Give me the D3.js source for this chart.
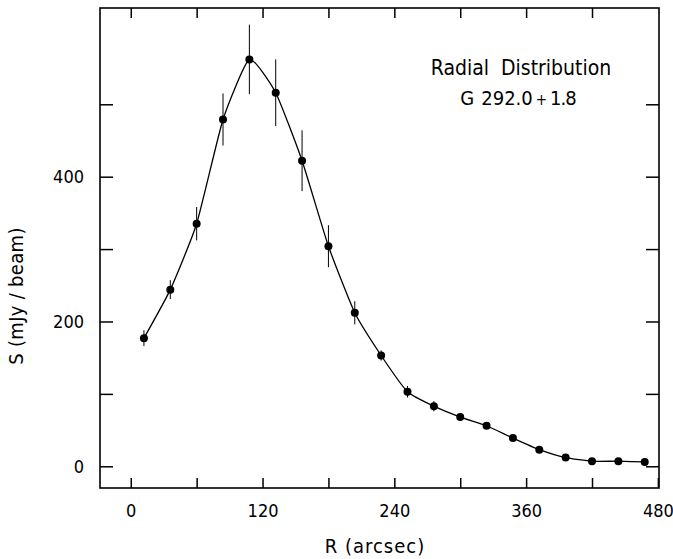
<!DOCTYPE html>
<html>
<head>
<meta charset="utf-8">
<script src="https://cdn.jsdelivr.net/npm/d3@7"></script>
<style>
  body { margin: 0; background: #fff; }
  svg text { font-family: "DejaVu Sans Condensed", "Liberation Sans Narrow", "DejaVu Sans", sans-serif; fill: #000; }
</style>
</head>
<body>
<div id="chart"></div>
<script>
// radial distribution of G 292.0+1.8
const radius = [12, 36, 60, 84, 108, 132, 156, 180, 204, 228, 252, 276, 300, 324, 348, 372, 396, 420, 444, 468];
const flux = [177, 244, 335, 479, 562, 516, 422, 304, 212, 153, 103, 83, 68, 56, 39, 23, 12, 7, 7, 6];
const fluxErr = [11, 13, 23, 36, 48, 46, 42, 29, 16, 7, 8, 7, 4, 3, 3, 2, 2, 1, 1, 1];
const xTicks = [0, 60, 120, 180, 240, 300, 360, 420];
const xLabels = [0, 120, 240, 360, 480];
const yTicks = [0, 100, 200, 300, 400, 500];
const yLabels = [0, 200, 400];
const title = "Radial  Distribution";
const subtitle = ["G", "292.0", "+", "1.8"];

const width = 673, height = 559;
const margins = {left: 100, right: 14, top: 8, bottom: 71};

const svg = d3.select("#chart").append("svg")
  .attr("width", width)
  .attr("height", height);

const x = d3.scaleLinear().domain([-28, 481]).range([margins.left, width - margins.right]);
const y = d3.scaleLinear().domain([-30, 633]).range([height - margins.bottom, margins.top]);

const points = radius.map(function(r, i) {
  return {r: r, s: flux[i], e: fluxErr[i]};
});

function styleAxis(g) {
  g.select(".domain").remove();
  g.selectAll("line").attr("stroke", "#000").attr("stroke-width", 1.5);
  g.selectAll("text").attr("font-size", 18).attr("font-family", null);
}

// axes, ticks point inward on every side
svg.append("g")
  .attr("transform", "translate(0," + y.range()[0] + ")")
  .call(d3.axisBottom(x).tickValues(xTicks.concat([480])).tickSizeInner(-10).tickSizeOuter(0).tickPadding(16)
    .tickFormat(function(d) { return xLabels.indexOf(d) >= 0 ? d : ""; }))
  .call(styleAxis);

svg.append("g")
  .attr("transform", "translate(0," + y.range()[1] + ")")
  .call(d3.axisTop(x).tickValues(xTicks).tickSizeInner(-10).tickSizeOuter(0).tickFormat(""))
  .call(styleAxis);

svg.append("g")
  .attr("transform", "translate(" + x.range()[0] + ",0)")
  .call(d3.axisLeft(y).tickValues(yTicks).tickSizeInner(-13).tickSizeOuter(0).tickPadding(16)
    .tickFormat(function(d) { return yLabels.indexOf(d) >= 0 ? d : ""; }))
  .call(styleAxis);

svg.append("g")
  .attr("transform", "translate(" + x.range()[1] + ",0)")
  .call(d3.axisRight(y).tickValues(yTicks).tickSizeInner(-13).tickSizeOuter(0).tickFormat(""))
  .call(styleAxis);

// frame
svg.append("rect")
  .attr("x", x.range()[0])
  .attr("y", y.range()[1])
  .attr("width", x.range()[1] - x.range()[0])
  .attr("height", y.range()[0] - y.range()[1])
  .attr("fill", "none")
  .attr("stroke", "#000")
  .attr("stroke-width", 1.6);

// error bars
svg.append("g").selectAll("line")
  .data(points)
  .enter().append("line")
  .attr("x1", function(d) { return x(d.r); })
  .attr("x2", function(d) { return x(d.r); })
  .attr("y1", function(d) { return y(d.s - d.e); })
  .attr("y2", function(d) { return y(d.s + d.e); })
  .attr("stroke", "#000")
  .attr("stroke-width", 1);

// smooth line through points
const line = d3.line()
  .x(function(d) { return x(d.r); })
  .y(function(d) { return y(d.s); })
  .curve(d3.curveCardinal.tension(0.5));

svg.append("path")
  .datum(points)
  .attr("d", line)
  .attr("fill", "none")
  .attr("stroke", "#000")
  .attr("stroke-width", 1.3);

svg.append("g").selectAll("circle")
  .data(points)
  .enter().append("circle")
  .attr("cx", function(d) { return x(d.r); })
  .attr("cy", function(d) { return y(d.s); })
  .attr("r", 4)
  .attr("fill", "#000");

// labels
svg.append("text")
  .attr("x", 375)
  .attr("y", 553)
  .attr("text-anchor", "middle")
  .attr("font-size", 20)
  .attr("letter-spacing", 1)
  .style("white-space", "pre")
  .text("R (arcsec)");

svg.append("text")
  .attr("transform", "translate(23,296) rotate(-90)")
  .attr("text-anchor", "middle")
  .attr("font-size", 20)
  .attr("letter-spacing", 0.3)
  .style("white-space", "pre")
  .text("S (mJy / beam)");

svg.append("text")
  .attr("x", 521)
  .attr("y", 75)
  .attr("text-anchor", "middle")
  .attr("font-size", 21)
  .style("white-space", "pre")
  .text(title);

const sub = svg.append("text")
  .attr("x", 518)
  .attr("y", 105)
  .attr("text-anchor", "middle")
  .attr("font-size", 20);

sub.selectAll("tspan")
  .data(subtitle)
  .enter().append("tspan")
  .attr("dx", function(d, i) { return [0, 7, 3, 3][i]; })
  .attr("font-size", function(d) { return d === "+" ? 15 : 20; })
  .attr("letter-spacing", function(d) { return d === "1.8" ? -1 : 0; })
  .text(function(d) { return d; });
</script>
</body>
</html>
